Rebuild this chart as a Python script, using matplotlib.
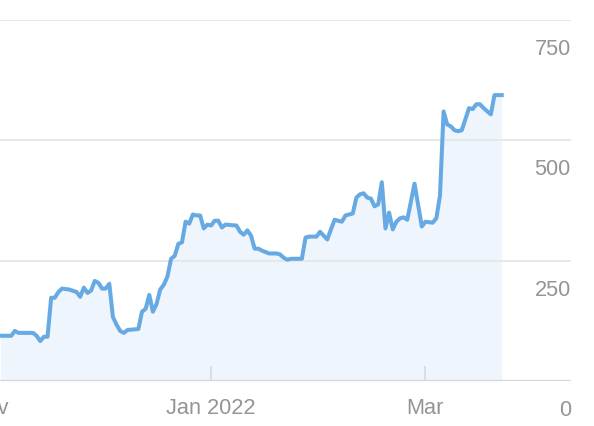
import matplotlib
matplotlib.use("Agg")
import matplotlib.pyplot as plt
import matplotlib.dates as mdates
import matplotlib.transforms as mtransforms
import pandas as pd

# %% data
dates = [
    "2021-11-04", "2021-11-07", "2021-11-08", "2021-11-09", "2021-11-13",
    "2021-11-14", "2021-11-15", "2021-11-16", "2021-11-17", "2021-11-18",
    "2021-11-19", "2021-11-20", "2021-11-21", "2021-11-23", "2021-11-25",
    "2021-11-26", "2021-11-27", "2021-11-28", "2021-11-29", "2021-11-30",
    "2021-12-01", "2021-12-02", "2021-12-03", "2021-12-04", "2021-12-05",
    "2021-12-06", "2021-12-07", "2021-12-08", "2021-12-09", "2021-12-12",
    "2021-12-13", "2021-12-14", "2021-12-15", "2021-12-16", "2021-12-17",
    "2021-12-18", "2021-12-19", "2021-12-20", "2021-12-21", "2021-12-22",
    "2021-12-23", "2021-12-24", "2021-12-25", "2021-12-26", "2021-12-27",
    "2021-12-28", "2021-12-29", "2021-12-30", "2021-12-31", "2022-01-01",
    "2022-01-02", "2022-01-03", "2022-01-04", "2022-01-05", "2022-01-08",
    "2022-01-09", "2022-01-10", "2022-01-11", "2022-01-12", "2022-01-13",
    "2022-01-14", "2022-01-15", "2022-01-17", "2022-01-19", "2022-01-20",
    "2022-01-21", "2022-01-22", "2022-01-23", "2022-01-26", "2022-01-27",
    "2022-01-28", "2022-01-30", "2022-01-31", "2022-02-01", "2022-02-02",
    "2022-02-03", "2022-02-04", "2022-02-06", "2022-02-07", "2022-02-09",
    "2022-02-10", "2022-02-11", "2022-02-12", "2022-02-13", "2022-02-14",
    "2022-02-15", "2022-02-16", "2022-02-17", "2022-02-18", "2022-02-19",
    "2022-02-20", "2022-02-21", "2022-02-22", "2022-02-23", "2022-02-24",
    "2022-02-26", "2022-02-28", "2022-03-01", "2022-03-03", "2022-03-04",
    "2022-03-05", "2022-03-06", "2022-03-07", "2022-03-08", "2022-03-09",
    "2022-03-10", "2022-03-11", "2022-03-13", "2022-03-14", "2022-03-15",
    "2022-03-16", "2022-03-17", "2022-03-19", "2022-03-20", "2022-03-22",
]
values = [
    94, 94, 104, 100, 100,
    94, 83, 92, 92, 173,
    173, 185, 192, 190, 185,
    175, 194, 183, 188, 208,
    204, 192, 192, 202, 133,
    117, 104, 100, 106, 108,
    144, 150, 179, 144, 160,
    190, 200, 217, 254, 260,
    285, 288, 331, 327, 346,
    344, 344, 317, 325, 323,
    333, 333, 319, 325, 323,
    310, 304, 313, 302, 275,
    275, 271, 265, 265, 263,
    256, 252, 254, 254, 298,
    300, 300, 310, 302, 294,
    315, 335, 331, 344, 348,
    381, 388, 390, 381, 379,
    363, 367, 413, 317, 350,
    315, 331, 338, 340, 335,
    410, 321, 331, 329, 338,
    385, 560, 533, 529, 521,
    519, 521, 567, 565, 575,
    575, 567, 554, 594, 594,
]
tick_dates = ["2021-11-01", "2022-01-01", "2022-03-01"]
tick_labels = ["Nov", "Jan 2022", "Mar"]
y_ticks = [0, 250, 500, 750]

x = pd.to_datetime(dates)

# %% figure
line_col = "#67a9e2"
fill_col = "#eef5fd"
grid_col = "#e6e6e6"
text_col = "#959595"

plt.rcParams["font.family"] = ["Liberation Sans", "DejaVu Sans"]

fig = plt.figure(figsize=(5.94, 4.26), dpi=100)
# axes runs a bit past the left edge so only the tail of "Nov" shows
ax = fig.add_axes([-0.0301, 0.1056, 0.991, 0.8474])

ax.fill_between(x, values, 0, color=fill_col, lw=0, zorder=1)
ax.plot(x, values, color=line_col, lw=2.9, solid_joinstyle="round", zorder=3)

ax.set_xlim(pd.Timestamp("2021-10-30"), pd.Timestamp("2022-04-10"))
ax.set_ylim(0, 750)

for s in ax.spines.values():
    s.set_visible(False)

# horizontal grid
for v in y_ticks[1:]:
    ax.axhline(v, color=grid_col, lw=1.3, zorder=2)
ax.axhline(0, color="#d3d8de", lw=1.6, zorder=2)

# x ticks
ax.set_xticks(pd.to_datetime(tick_dates))
ax.set_xticklabels(tick_labels)
ax.tick_params(axis="x", direction="in", length=11, width=1.1, color="#d6d6d6",
               pad=12, labelsize=15.7, labelcolor=text_col)

# y labels on the right, sitting under their grid lines
ax.yaxis.tick_right()
ax.set_yticks(y_ticks)
ax.set_yticklabels([str(v) for v in y_ticks])
ax.tick_params(axis="y", length=0, pad=0, labelsize=15.7, labelcolor=text_col)
shift = mtransforms.ScaledTranslation(0, -0.27, fig.dpi_scale_trans)
for lab in ax.get_yticklabels():
    lab.set_horizontalalignment("right")
    lab.set_transform(lab.get_transform() + shift)

fig.savefig("out.png", dpi=100)
